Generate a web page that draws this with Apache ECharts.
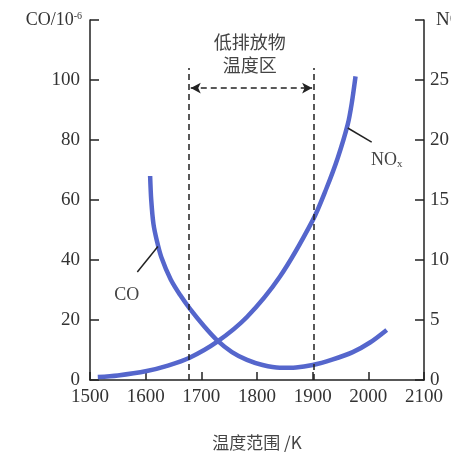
<!DOCTYPE html>
<html><head><meta charset="utf-8">
<script src="https://cdn.jsdelivr.net/npm/echarts@6/dist/echarts.min.js"></script>
<style>html,body{margin:0;padding:0;background:#fff}#c{width:451px;height:453px}</style>
</head><body><div id="c"></div>
<script>
// Data
const coTemps = [1608, 1610, 1614, 1620, 1628, 1645, 1662, 1680, 1705, 1728, 1755, 1782, 1810, 1841, 1870, 1900, 1935, 1972, 2003, 2033];
const coValues = [68, 60, 52, 46.5, 41, 33.5, 28.3, 23.6, 17.9, 13.3, 9.3, 6.7, 5, 4.1, 4.2, 5, 6.8, 9.3, 12.5, 16.7];
const noxTemps = [1514, 1550, 1602, 1640, 1678, 1728, 1782, 1841, 1900, 1925, 1945, 1963, 1970, 1977];
const noxValues = [0.25, 0.38, 0.75, 1.2, 1.83, 3.17, 5.25, 8.6, 13.3, 16, 18.5, 21.3, 23, 25.3];
const xTicks = [1500, 1600, 1700, 1800, 1900, 2000, 2100];
const coTicks = [0, 20, 40, 60, 80, 100];
const noxTicks = [0, 5, 10, 15, 20, 25];
const zoneLow = 1678, zoneHigh = 1902;

const serif = '"Liberation Serif", "DejaVu Serif", serif';
const cjk = '"Noto Sans CJK SC", sans-serif';
const curveColor = '#5566cc';
const axisColor = '#222';

const chart = echarts.init(document.getElementById('c'), null, {renderer: 'canvas'});
const dashStyle = {color: '#222', width: 1.5, type: [6, 4]};
const txt = (coord, formatter, extra) => ({
  coord, symbol: 'rect', symbolSize: 1, itemStyle: {color: 'transparent'},
  label: Object.assign({show: true, position: 'inside', formatter, fontSize: 18, color: '#444'}, extra)
});
const option = {
  animation: false,
  backgroundColor: '#fff',
  grid: {left: 90, right: 27, top: 20, bottom: 73, containLabel: false, outerBoundsMode: 'none'},
  xAxis: {
    type: 'value', min: 1500, max: 2100, interval: 100,
    name: '温度范围 /K', nameLocation: 'middle', nameGap: 54,
    nameTextStyle: {fontFamily: cjk, fontSize: 17, color: '#444'},
    axisLine: {lineStyle: {color: axisColor, width: 1.5}},
    axisTick: {inside: true, length: 8, lineStyle: {color: axisColor, width: 1.5}},
    axisLabel: {fontFamily: serif, fontSize: 19, color: '#333', margin: 8,
      formatter: v => xTicks.includes(v) ? String(v) : ''},
    splitLine: {show: false}
  },
  yAxis: [{
    type: 'value', min: 0, max: 120, interval: 20, position: 'left',
    name: '{n|CO/10}{s|-6}', nameLocation: 'end', nameGap: 0,
    nameTextStyle: {align: 'right', verticalAlign: 'middle', padding: [0, 8, 0, 0],
      rich: {n: {fontFamily: serif, fontSize: 18, color: '#333'},
             s: {fontFamily: serif, fontSize: 10, color: '#333', verticalAlign: 'top', padding: [0, 0, 8, 0]}}},
    axisLine: {show: true, lineStyle: {color: axisColor, width: 1.5}},
    axisTick: {show: true, inside: true, length: 9, lineStyle: {color: axisColor, width: 1.5}},
    axisLabel: {fontFamily: serif, fontSize: 19, color: '#333', margin: 10,
      formatter: v => coTicks.includes(v) ? String(v) : ''},
    splitLine: {show: false}
  }, {
    type: 'value', min: 0, max: 30, interval: 5, position: 'right',
    name: 'NOx/10⁻⁶', nameLocation: 'end', nameGap: 0,
    nameTextStyle: {align: 'left', verticalAlign: 'middle', padding: [0, 0, 0, 12],
      fontFamily: serif, fontSize: 19, color: '#333'},
    axisLine: {show: true, lineStyle: {color: axisColor, width: 1.5}},
    axisTick: {show: true, inside: true, length: 9, lineStyle: {color: axisColor, width: 1.5}},
    axisLabel: {fontFamily: serif, fontSize: 19, color: '#333', margin: 6,
      formatter: v => noxTicks.includes(v) ? String(v) : ''},
    splitLine: {show: false}
  }],
  series: [{
    name: 'CO', type: 'line', yAxisIndex: 0, smooth: 0.3, showSymbol: false,
    lineStyle: {color: curveColor, width: 4.5},
    data: coTemps.map((t, i) => [t, coValues[i]]),
    markLine: {
      silent: true, symbol: ['none', 'none'], animation: false, label: {show: false},
      data: [
        [{coord: [zoneLow, 0], lineStyle: dashStyle}, {coord: [zoneLow, 104]}],
        [{coord: [zoneHigh, 0], lineStyle: dashStyle}, {coord: [zoneHigh, 104]}],
        [{coord: [zoneLow + 3, 97.3], symbol: 'arrow', symbolSize: [8, 10], lineStyle: dashStyle},
         {coord: [zoneHigh - 3, 97.3], symbol: 'arrow', symbolSize: [8, 10]}],
        [{coord: [1622, 44.5], lineStyle: {color: '#222', width: 1.5, type: 'solid'}}, {coord: [1585, 36]}],
        [{coord: [1963, 84], lineStyle: {color: '#222', width: 1.5, type: 'solid'}}, {coord: [2006, 79.3]}]
      ]
    },
    markPoint: {
      silent: true, animation: false,
      data: [
        txt([1787, 112.5], '低排放物', {fontFamily: cjk}),
        txt([1787, 105], '温度区', {fontFamily: cjk}),
        txt([1566, 28.3], 'CO', {fontFamily: serif}),
        txt([2033, 73.3], '{a|NO}{b|x}', {rich: {
          a: {fontFamily: serif, fontSize: 18, color: '#444'},
          b: {fontFamily: serif, fontSize: 11, color: '#444', padding: [8, 0, 0, 0]}}})
      ]
    }
  }, {
    name: 'NOx', type: 'line', yAxisIndex: 1, smooth: 0.3, showSymbol: false,
    lineStyle: {color: curveColor, width: 4.5},
    data: noxTemps.map((t, i) => [t, noxValues[i]])
  }]
};
chart.setOption(option);
</script></body></html>
